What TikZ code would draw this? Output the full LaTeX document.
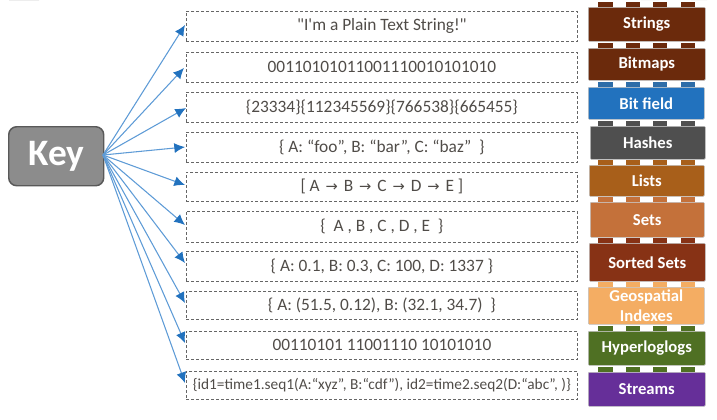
\documentclass[tikz,border=0pt]{standalone}
\usepackage{fontspec}
\setmainfont{Carlito}[Ligatures=TeXOff]
\usetikzlibrary{arrows.meta}
\definecolor{txt}{HTML}{504C48}
\definecolor{arrowc}{HTML}{2272BE}
\definecolor{linkc}{HTML}{5E9BD6}
\definecolor{cStr}{HTML}{6B2A0C}
\definecolor{cBit}{HTML}{2272BE}
\definecolor{cBitS}{HTML}{2E6DA8}
\definecolor{cHash}{HTML}{4F4F4F}
\definecolor{cList}{HTML}{A85F1A}
\definecolor{cSet}{HTML}{C4713A}
\definecolor{cSort}{HTML}{873215}
\definecolor{cGeo}{HTML}{F4AD63}
\definecolor{cHyp}{HTML}{4F7023}
\definecolor{cStream}{HTML}{662F99}
\newfontfamily\arrowfont{DejaVu Sans}
\newcommand{\arr}{\hspace{1.5pt}{\arrowfont\fontsize{11}{12}\selectfont →}\hspace{1.5pt}}
\tikzset{
  x=0.75pt,y=-0.75pt,
  valbox/.style={draw=black!60,line width=0.6pt,dash pattern=on 2.2pt off 1.5pt,minimum width=293.25pt,inner sep=0pt,anchor=north west,text=txt,font=\fontsize{13}{14}\selectfont,align=center},
  brick/.style={draw=black!25,line width=0.4pt,rounded corners=0.7pt,anchor=north west,inner sep=0pt,text=white,font=\fontsize{12.5}{15}\bfseries\selectfont,align=center},
  keybox/.style={draw=black!65,fill=black!45,line width=1.1pt,rounded corners=6pt,text=white,font=\fontsize{28}{30}\bfseries\selectfont,anchor=north west,inner sep=0pt},
  link/.style={draw=linkc,line width=0.8pt,-{Latex[length=8pt,width=7.5pt,color=arrowc,fill=arrowc]}}
}
% name, y top, height in px, text
\newcommand{\valnode}[4]{\node[valbox,minimum height=#3*0.75pt] (#1) at (186,#2) {#4};}
% name, x1, y1, width, height, brick colour, stud colour, text
\newcommand{\bricknode}[8]{%
  \fill[#7] (598,#3-5.5) rectangle (613,#3);
  \fill[#7] (626,#3-5.5) rectangle (640,#3);
  \fill[#7] (653,#3-5.5) rectangle (667,#3);
  \fill[#7] (681,#3-5.5) rectangle (695,#3);
  \node[brick,fill=#6,minimum width=#4*0.75pt,minimum height=#5*0.75pt] (#1) at (#2,#3) {#8};}
\begin{document}
\begin{tikzpicture}
\useasboundingbox (0,0) rectangle (717,419);
% marks cut by the top edge
\fill[black!55] (9,0) arc[start angle=180,end angle=360,x radius=15,y radius=1.6] -- cycle;
\fill[black!20] (641,0) arc[start angle=180,end angle=360,x radius=9,y radius=2] -- cycle;
\fill[black!20] (691,0) arc[start angle=180,end angle=360,x radius=8,y radius=2] -- cycle;
% value boxes
\valnode{v1}{11}{30}{"I'm a Plain Text String!"}
\valnode{v2}{52}{30}{00110101011001110010101010}
\valnode{v3}{92}{30}{\{23334\}\{112345569\}\{766538\}\{665455\}}
\valnode{v4}{132}{30}{\{ A: “foo”, B: “bar”, C: “baz”\ \ \}}
\valnode{v5}{172}{29}{[ A \arr\ B \arr\ C \arr\ D \arr\ E ]}
\valnode{v6}{211}{31}{\{\ \ A , B , C , D , E\ \ \}}
\valnode{v7}{251}{30}{\{ A: 0.1, B: 0.3, C: 100, D: 1337 \}}
\valnode{v8}{291}{28}{\{ A: (51.5, 0.12), B: (32.1, 34.7)\ \ \}}
\valnode{v9}{331}{28}{00110101 11001110 10101010}
\node[valbox,minimum height=21pt,font=\fontsize{11.5}{14}\selectfont] (v10) at (186,371) {\{id1=time1.seq1(A:“xyz”, B:“cdf”), id2=time2.seq2(D:“abc”, )\}};
% key
\node[keybox,minimum width=71.25pt,minimum height=44.25pt] (key) at (8,126) {Key};
\coordinate (src) at (103,155);
% arrow ends
\coordinate (e1) at (185,25);
\coordinate (e2) at (184,68);
\coordinate (e3) at (186,108);
\coordinate (e4) at (185,147);
\coordinate (e5) at (185,185);
\coordinate (e6) at (185,225);
\coordinate (e7) at (185,263);
\coordinate (e8) at (185,303);
\coordinate (e9) at (185,343);
\coordinate (e10) at (185,383);
\foreach \i in {1,...,10} \draw[link] (src) -- (e\i);
% bricks
\bricknode{b1}{588}{7}{117}{34}{cStr}{cStr}{Strings}
\bricknode{b2}{588}{48}{117}{32}{cStr}{cStr}{Bitmaps}
\bricknode{b3}{588}{87}{116}{32}{cBit}{cBitS}{Bit field}
\bricknode{b4}{590}{126}{115}{33}{cHash}{cHash}{Hashes}
\bricknode{b5}{589}{165}{115}{31}{cList}{cList}{Lists}
\bricknode{b6}{590}{202}{114}{35}{cSet}{cSet}{Sets}
\bricknode{b7}{589}{243}{116}{38}{cSort}{cSort}{Sorted Sets}
\bricknode{b8}{588}{287}{116}{37}{cGeo}{cGeo}{Geospatial\\Indexes}
\bricknode{b9}{588}{331}{117}{34}{cHyp}{cHyp}{Hyperloglogs}
\bricknode{b10}{588}{372}{117}{34}{cStream}{cHyp}{Streams}
\end{tikzpicture}
\end{document}
